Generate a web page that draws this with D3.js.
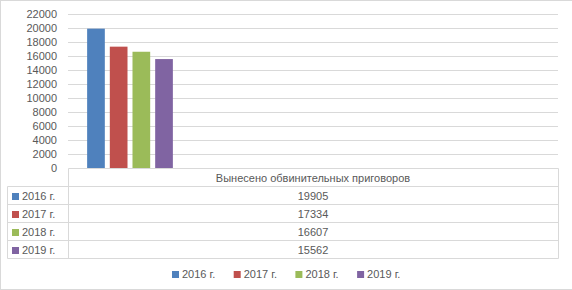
<!DOCTYPE html>
<html>
<head>
<meta charset="utf-8">
<script src="https://cdn.jsdelivr.net/npm/d3@7"></script>
<style>
  body { margin: 0; background: #fff; }
  svg text { font-family: "Liberation Sans", Arial, sans-serif; fill: #595959; }
</style>
</head>
<body>
<svg id="chart" width="572" height="290"></svg>
<script>
const category = 'Вынесено обвинительных приговоров';
const series = ['2016 г.', '2017 г.', '2018 г.', '2019 г.'];
const values = [19905, 17334, 16607, 15562];
const colors = ['#4f81bd', '#c0504d', '#9bbb59', '#8064a2'];
const yTicks = [0, 2000, 4000, 6000, 8000, 10000, 12000, 14000, 16000, 18000, 20000, 22000];

const W = 572;
const H = 290;
const PLOT = { left: 68, right: 558, top: 14, bottom: 168 };
const TABLE = { left: 7, rowH: 18 };
const GRID = '#d9d9d9';

const svg = d3.select('#chart');

svg.append('rect')
	.attr('x', 0.5).attr('y', 0.5)
	.attr('width', W + 2).attr('height', H - 1)
	.attr('fill', '#fff').attr('stroke', GRID);

const y = d3.scaleLinear().domain([0, 22000]).range([PLOT.bottom, PLOT.top]);
// bars sit in the left part of the category band, as in the source
const x = d3.scaleBand().domain(series).range([86, 174]).paddingInner(0.22).paddingOuter(0.05);

// gridlines
svg.append('g')
	.selectAll('line')
	.data(yTicks.slice(1))
	.join('line')
	.attr('x1', PLOT.left).attr('x2', PLOT.right)
	.attr('y1', d => Math.round(y(d)) + 0.5).attr('y2', d => Math.round(y(d)) + 0.5)
	.attr('stroke', GRID);

// y tick labels
svg.append('g')
	.selectAll('text')
	.data(yTicks)
	.join('text')
	.attr('x', 57)
	.attr('y', d => y(d))
	.attr('dy', '0.35em')
	.attr('text-anchor', 'end')
	.style('font-size', '11px')
	.text(d => d);

// bars
svg.append('g')
	.selectAll('rect')
	.data(series)
	.join('rect')
	.attr('x', d => x(d))
	.attr('width', x.bandwidth())
	.attr('y', (d, i) => y(values[i]))
	.attr('height', (d, i) => y(0) - y(values[i]))
	.attr('fill', (d, i) => colors[i]);

// data table
const rowY = i => PLOT.bottom + TABLE.rowH * i;
const table = svg.append('g').attr('stroke', GRID).attr('fill', 'none');
const nRows = series.length + 1;
table.append('line')
	.attr('x1', PLOT.left + 0.5).attr('x2', PLOT.right + 0.5)
	.attr('y1', rowY(0) + 0.5).attr('y2', rowY(0) + 0.5);
d3.range(1, nRows + 1).forEach(i => {
	table.append('line')
		.attr('x1', TABLE.left + 0.5).attr('x2', PLOT.right + 0.5)
		.attr('y1', rowY(i) + 0.5).attr('y2', rowY(i) + 0.5);
});
table.append('line')
	.attr('x1', TABLE.left + 0.5).attr('x2', TABLE.left + 0.5)
	.attr('y1', rowY(1) + 0.5).attr('y2', rowY(nRows) + 0.5);
[PLOT.left, PLOT.right].forEach(xx => {
	table.append('line')
		.attr('x1', xx + 0.5).attr('x2', xx + 0.5)
		.attr('y1', rowY(0) + 0.5).attr('y2', rowY(nRows) + 0.5);
});

const mid = (PLOT.left + PLOT.right) / 2;
svg.append('text')
	.attr('x', mid).attr('y', rowY(0) + TABLE.rowH / 2 + 1)
	.attr('dy', '0.35em').attr('text-anchor', 'middle')
	.style('font-size', '11px')
	.text(category);

const rows = svg.append('g')
	.selectAll('g')
	.data(series)
	.join('g')
	.attr('transform', (d, i) => `translate(0,${rowY(i + 1) + TABLE.rowH / 2 + 1})`);
rows.append('rect')
	.attr('x', 12).attr('y', -3).attr('width', 7).attr('height', 7)
	.attr('fill', (d, i) => colors[i]);
rows.append('text')
	.attr('x', 22).attr('dy', '0.35em')
	.style('font-size', '11px')
	.text(d => d);
rows.append('text')
	.attr('x', mid).attr('dy', '0.35em').attr('text-anchor', 'middle')
	.style('font-size', '11px')
	.text((d, i) => values[i]);

// legend
const legend = svg.append('g')
	.selectAll('g')
	.data(series)
	.join('g')
	.attr('transform', (d, i) => `translate(${172 + i * 61.7},274)`);
legend.append('rect')
	.attr('x', 0).attr('y', -3).attr('width', 7).attr('height', 7)
	.attr('fill', (d, i) => colors[i]);
legend.append('text')
	.attr('x', 10).attr('dy', '0.35em')
	.style('font-size', '11px')
	.text(d => d);
</script>
</body>
</html>
